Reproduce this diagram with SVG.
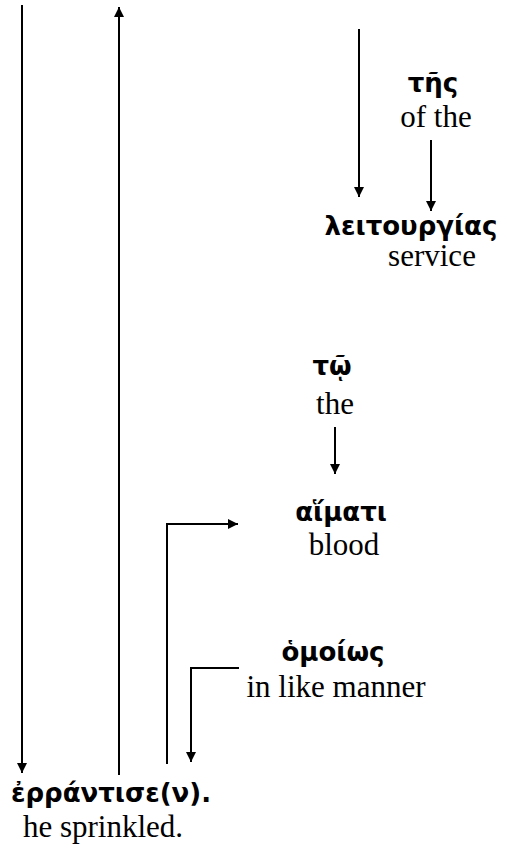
<svg xmlns="http://www.w3.org/2000/svg" width="507" height="850" viewBox="0 0 507 850">
<style>
.gr{font-family:"DejaVu Sans","Noto Sans",sans-serif;font-weight:bold;font-size:26px;fill:#000;text-anchor:middle}
.en{font-family:"Liberation Serif","Times New Roman",serif;font-size:31px;fill:#000;text-anchor:middle}
.c{fill:none;stroke:#000;stroke-width:2}
</style>
<defs>
<marker id="ah" viewBox="0 0 10 10" refX="10" refY="5" markerWidth="10" markerHeight="10" markerUnits="userSpaceOnUse" orient="auto">
<path d="M0,0 L10,5 L0,10 Z" fill="#000"/>
</marker>
</defs>
<rect width="507" height="850" fill="#fff"/>
<g id="connectors">
<path class="c" d="M22,5 V773" marker-end="url(#ah)"/>
<path class="c" d="M119,775 V7" marker-end="url(#ah)"/>
<path class="c" d="M167,764 V524 H238" marker-end="url(#ah)"/>
<path class="c" d="M239,668 H191 V762" marker-end="url(#ah)"/>
<path class="c" d="M359,29 V197" marker-end="url(#ah)"/>
<path class="c" d="M431,140 V211" marker-end="url(#ah)"/>
<path class="c" d="M335,427 V474" marker-end="url(#ah)"/>
</g>
<g id="tes">
<text class="gr" x="433" y="92">τῆς</text>
<text class="en" x="436" y="127">of the</text>
</g>
<g id="leitourgias">
<text class="gr" x="411" y="235">λειτουργίας</text>
<text class="en" x="432" y="266">service</text>
</g>
<g id="to">
<text class="gr" x="332" y="375">τῷ</text>
<text class="en" x="335" y="414">the</text>
</g>
<g id="haimati">
<text class="gr" x="341" y="521">αἵματι</text>
<text class="en" x="344" y="555">blood</text>
</g>
<g id="homoios">
<text class="gr" x="333" y="661">ὁμοίως</text>
<text class="en" x="336" y="697">in like manner</text>
</g>
<g id="errantise">
<text class="gr" x="111" y="802">ἐρράντισε(ν).</text>
<text class="en" x="103" y="837">he sprinkled.</text>
</g>
</svg>
